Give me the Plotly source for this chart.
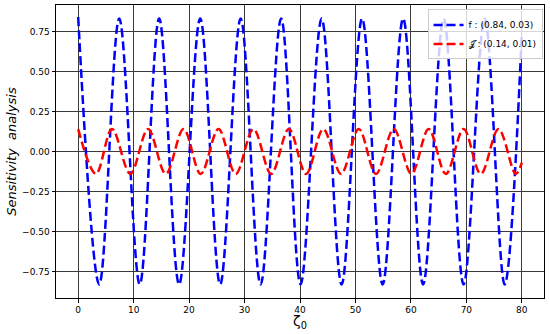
import plotly.graph_objects as go

# Extrema (and end points)
f_x = [0.0, 3.8, 7.4, 11.1, 14.6, 18.2, 22.0, 25.6, 29.3, 32.9, 36.6, 40.1,
       43.9, 47.5, 51.2, 54.9, 58.6, 62.2, 65.9, 69.5, 73.3, 76.9, 80.0]
f_y = [0.84, -0.83, 0.83, -0.83, 0.83, -0.83, 0.83, -0.83, 0.83, -0.83, 0.83, -0.83,
       0.83, -0.83, 0.83, -0.83, 0.83, -0.83, 0.83, -0.83, 0.83, -0.83, 0.74]

j_x = [0.0, 3.2, 6.1, 9.4, 12.6, 15.8, 19.0, 22.1, 25.3, 28.4, 31.6, 34.8, 38.0,
       41.1, 44.2, 47.4, 50.6, 53.7, 56.9, 60.1, 63.2, 66.3, 69.5, 72.6, 75.8, 78.9, 80.0]
j_y = [0.14, -0.14, 0.14, -0.14, 0.14, -0.14, 0.14, -0.14, 0.14, -0.14, 0.14, -0.14, 0.14,
       -0.14, 0.14, -0.14, 0.14, -0.14, 0.14, -0.14, 0.14, -0.14, 0.14, -0.14, 0.14, -0.14, -0.07]

x_ticks = [0, 10, 20, 30, 40, 50, 60, 70, 80]
y_ticks = [-0.75, -0.5, -0.25, 0.0, 0.25, 0.5, 0.75]

fig = go.Figure()
fig.add_trace(go.Scatter(x=f_x, y=f_y, mode="lines", name="f : (0.84, 0.03)",
                         line=dict(color="#0000ff", width=2.5, dash="9px,4px",
                                   shape="spline", smoothing=1.0)))
fig.add_trace(go.Scatter(x=j_x, y=j_y, mode="lines", name="𝒥 : (0.14, 0.01)",
                         line=dict(color="#ff0000", width=2.5, dash="9px,4px",
                                   shape="spline", smoothing=1.0)))

axis_common = dict(showline=True, linecolor="black", linewidth=1, mirror=True,
                   showgrid=True, gridcolor="#3a3a3a", gridwidth=1,
                   ticks="outside", ticklen=3.5, tickcolor="black", tickwidth=1,
                   zeroline=False, automargin=False,
                   tickfont=dict(family="DejaVu Sans", size=9, color="black"))

fig.update_layout(
    width=550, height=334,
    margin=dict(l=56, r=6, t=5, b=36),
    paper_bgcolor="white", plot_bgcolor="white",
    showlegend=True,
    legend=dict(x=0.997, y=0.985, xanchor="right", yanchor="top",
                bgcolor="rgba(255,255,255,0.8)", bordercolor="#cccccc", borderwidth=1,
                font=dict(family="DejaVu Sans", size=9, color="black"),
                tracegroupgap=0, itemwidth=30),
    xaxis=dict(range=[-4, 84], tickvals=x_ticks, **axis_common),
    yaxis=dict(range=[-0.915, 0.915], tickvals=y_ticks, tickformat=".2f", **axis_common),
    annotations=[
        dict(text="ζ<sub>0</sub>", xref="paper", yref="paper", x=0.5, y=-0.045,
             xanchor="center", yanchor="top", showarrow=False,
             font=dict(family="DejaVu Sans", size=14, color="black")),
        dict(text="<i>Sensitivity  analysis</i>", xref="paper", yref="paper",
             x=-0.072, y=0.5, xanchor="right", yanchor="middle", textangle=-90,
             showarrow=False,
             font=dict(family="DejaVu Sans", size=13, color="black")),
    ],
)

fig.write_html("out.html", config={"displayModeBar": False},
               post_script="document.body.style.margin='0';document.body.style.padding='0';")
